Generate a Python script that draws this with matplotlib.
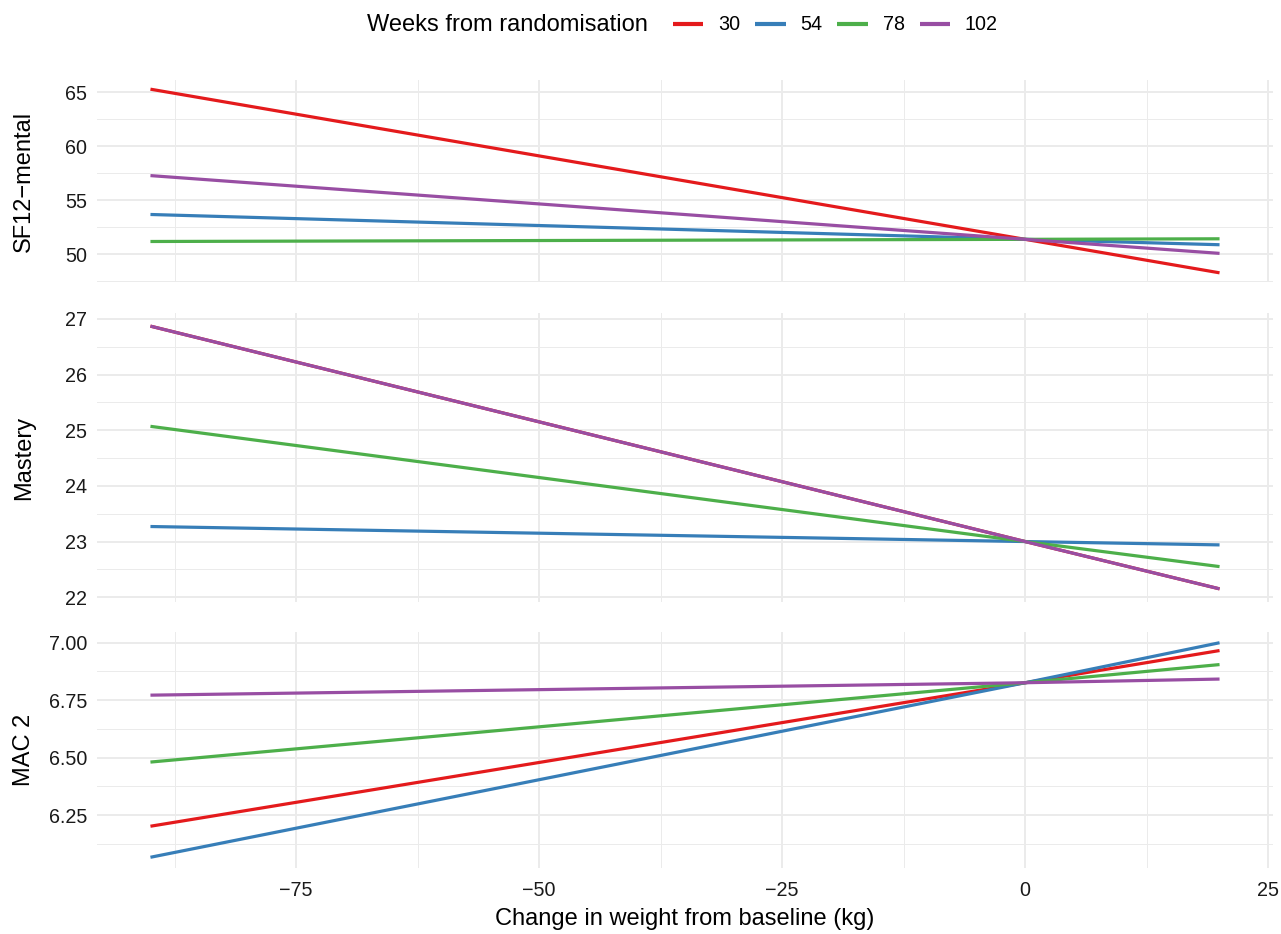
import numpy as np
import matplotlib
matplotlib.use("Agg")
import matplotlib.pyplot as plt
from matplotlib.ticker import FixedLocator, FormatStrFormatter

plt.rcParams['font.family'] = ['Liberation Sans', 'DejaVu Sans']

# data
weight = [-90, 0, 20]
weeks = ['30', '54', '78', '102']
cols = {'30': '#E41A1C', '54': '#377EB8', '78': '#4DAF4A', '102': '#984EA3'}

sf12 = {'30': [65.3, 51.4, 48.3],
        '54': [53.7, 51.4, 50.9],
        '78': [51.2, 51.4, 51.45],
        '102': [57.3, 51.4, 50.1]}
mastery = {'30': [26.87, 23.0, 22.15],
           '54': [23.27, 23.0, 22.94],
           '78': [25.07, 23.0, 22.55],
           '102': [26.87, 23.0, 22.15]}
mac2 = {'30': [6.202, 6.826, 6.966],
        '54': [6.067, 6.826, 7.0],
        '78': [6.481, 6.826, 6.905],
        '102': [6.772, 6.826, 6.842]}

panels = [('SF12\u2212mental', sf12, [50, 55, 60, 65], [47.5, 52.5, 57.5, 62.5], '%d'),
          ('Mastery', mastery, [22, 23, 24, 25, 26, 27], [22.5, 23.5, 24.5, 25.5, 26.5], '%d'),
          ('MAC 2', mac2, [6.25, 6.5, 6.75, 7.0], [6.125, 6.375, 6.625, 6.875], '%.2f')]

W, H = 1281, 934
fig = plt.figure(figsize=(W/100, H/100), dpi=100)
rows = [(80, 282), (313, 602), (632, 868)]
left, right = 97, 1273
tsize, lsize = 14.2, 17

xmaj = [-75, -50, -25, 0, 25]
xmin = [-87.5, -62.5, -37.5, -12.5, 12.5]

axes = []
for (top, bot), (lab, d, ymaj, ymin, fmt) in zip(rows, panels):
    ax = fig.add_axes([left/W, 1-bot/H, (right-left)/W, (bot-top)/H])
    for w in weeks:
        ax.plot(weight, d[w], color=cols[w], lw=2.3, solid_capstyle='butt', label=w)
    allv = np.concatenate([d[w] for w in weeks])
    lo, hi = allv.min(), allv.max()
    pad = 0.05*(hi-lo)
    ax.set_ylim(lo-pad, hi+pad)
    ax.set_xlim(-95.5, 25.5)
    ax.yaxis.set_major_locator(FixedLocator(ymaj))
    ax.yaxis.set_minor_locator(FixedLocator(ymin))
    ax.yaxis.set_major_formatter(FormatStrFormatter(fmt))
    ax.xaxis.set_major_locator(FixedLocator(xmaj))
    ax.xaxis.set_minor_locator(FixedLocator(xmin))
    ax.grid(which='major', color='#EBEBEB', lw=1.4)
    ax.grid(which='minor', color='#EBEBEB', lw=0.7)
    ax.set_axisbelow(True)
    for s in ax.spines.values():
        s.set_visible(False)
    ax.tick_params(which='both', length=0, labelsize=tsize, colors='#1A1A1A', pad=7)
    ax.tick_params(axis='x', labelbottom=False)
    ax.set_ylabel(lab, fontsize=lsize, color='black')
    ax.yaxis.set_label_coords(-(97-35)/(right-left), 0.5)
    axes.append(ax)

axes[-1].tick_params(axis='x', labelbottom=True, pad=9)
axes[-1].set_xlabel('Change in weight from baseline (kg)', fontsize=lsize, labelpad=6)

fig.text(648/W, 1-25/H, 'Weeks from randomisation', ha='right', va='center', fontsize=lsize)
hs, ls = axes[0].get_legend_handles_labels()
fig.legend(hs, ls, loc='center left', bbox_to_anchor=(659/W, 1-25/H), ncol=4, frameon=False,
           fontsize=tsize, handlelength=1.55, handletextpad=0.75, columnspacing=0.75, borderpad=0.2)
for l in fig.legends[0].get_lines():
    l.set_linewidth(3)

fig.savefig('out.png', dpi=100)
